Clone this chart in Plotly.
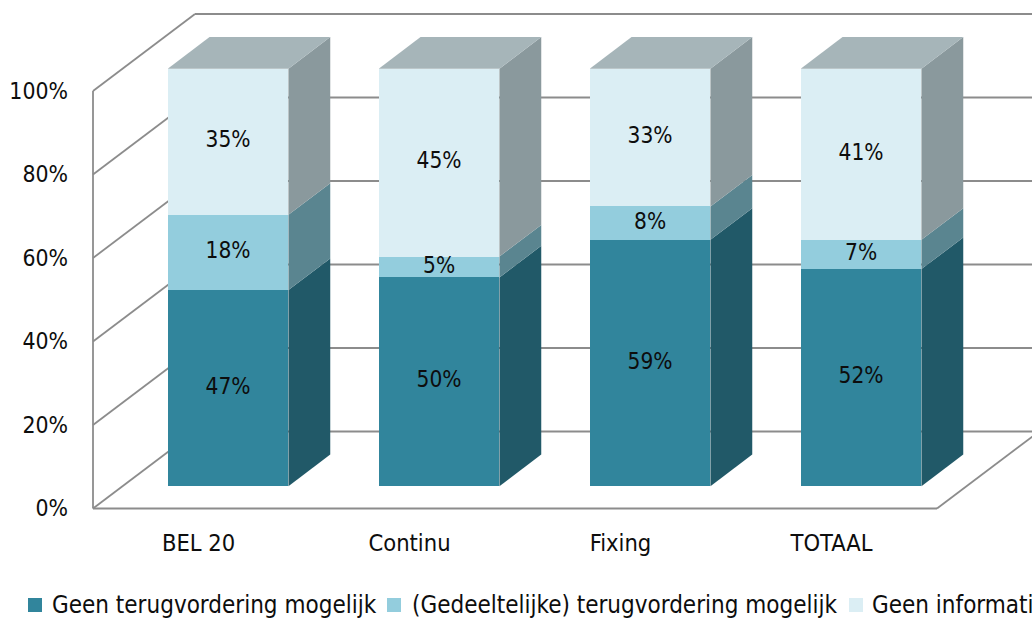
import plotly.graph_objects as go

# ---- data -------------------------------------------------------------
categories = ["BEL 20", "Continu", "Fixing", "TOTAAL"]
series_names = [
    "Geen terugvordering mogelijk",
    "(Gedeeltelijke) terugvordering mogelijk",
    "Geen informatie",
]
geen_terugvordering = [47, 50, 59, 52]
gedeeltelijke_terugvordering = [18, 5, 8, 7]
geen_informatie = [35, 45, 33, 41]
series_values = [geen_terugvordering, gedeeltelijke_terugvordering, geen_informatie]

y_ticks = [0, 20, 40, 60, 80, 100]
y_tick_labels = [f"{v}%" for v in y_ticks]

# ---- styling ----------------------------------------------------------
FONT = "DejaVu Sans Condensed, Lato, sans-serif"
TEXT_COLOR = "#0d0d0d"
front_colors = ["#31859C", "#93CDDD", "#DBEEF4"]
side_colors = ["#215968", "#5A8590", "#8A999D"]
top_color = "#A6B5B9"
wall_color = "#8C8C8C"

# ---- page / projection geometry (pixels) ------------------------------
W, H = 1032, 618
PX_PER_CAT = 211.0      # horizontal pixels per category slot
PX_PER_PCT = 4.175      # vertical pixels per percentage point
FRONT_LEFT_PX = 93.0    # left wall front edge
ZERO_PX = 508.5         # 0% on the front plane
PLOT_L, PLOT_B = 89.0, 512.0

x_range = [-0.5 - (FRONT_LEFT_PX - PLOT_L) / PX_PER_CAT,
           -0.5 + (W - FRONT_LEFT_PX) / PX_PER_CAT]
y_range = [-(PLOT_B - ZERO_PX) / PX_PER_PCT, ZERO_PX / PX_PER_PCT]

# oblique depth of the whole box, in axis units
DEPTH_X = 102.0 / PX_PER_CAT
DEPTH_Y = 77.0 / PX_PER_PCT
# bars sit between these depth fractions
BAR_FRONT, BAR_BACK = 0.29, 0.70
BAR_W = 0.572

dx1, dy1 = BAR_FRONT * DEPTH_X, BAR_FRONT * DEPTH_Y
dx2, dy2 = BAR_BACK * DEPTH_X, BAR_BACK * DEPTH_Y

n = len(categories)
x_left, x_right = -0.5, n - 0.5

fig = go.Figure()

# ---- walls and gridlines (axis furniture) -----------------------------
shapes = []


def seg(x0, y0, x1, y1):
    shapes.append(dict(type="line", xref="x", yref="y", x0=x0, y0=y0, x1=x1, y1=y1,
                       layer="below", line=dict(color=wall_color, width=1.8)))


for v in y_ticks:
    seg(x_left, v, x_left + DEPTH_X, v + DEPTH_Y)
    seg(x_left + DEPTH_X, v + DEPTH_Y, x_right + DEPTH_X + 1, v + DEPTH_Y)
seg(x_left, 0, x_left, y_ticks[-1])
seg(x_left, 0, x_right, 0)
seg(x_right, 0, x_right + DEPTH_X, DEPTH_Y)

# ---- bars -------------------------------------------------------------
cum = [0.0] * n
label_x, label_y, label_t = [], [], []
for k, vals in enumerate(series_values):
    bases = list(cum)
    fig.add_trace(go.Bar(
        x=[i + dx1 for i in range(n)],
        y=vals,
        base=[b + dy1 for b in bases],
        width=BAR_W,
        marker=dict(color=front_colors[k], line=dict(width=0)),
        name=series_names[k],
        showlegend=False,
        customdata=categories,
        hovertemplate="%{customdata}: " + "%{y}%<extra>" + series_names[k] + "</extra>",
    ))
    for i in range(n):
        lo, hi = bases[i], bases[i] + vals[i]
        xr = i + BAR_W / 2
        fig.add_trace(go.Scatter(
            x=[xr + dx1, xr + dx2, xr + dx2, xr + dx1, xr + dx1],
            y=[lo + dy1, lo + dy2, hi + dy2, hi + dy1, lo + dy1],
            mode="lines", fill="toself", fillcolor=side_colors[k],
            line=dict(width=0), hoverinfo="skip", showlegend=False,
        ))
        label_x.append(i + dx1)
        label_y.append(lo + vals[i] / 2 + dy1)
        label_t.append(f"{vals[i]}%")
        cum[i] = hi

# top faces
for i in range(n):
    top = cum[i]
    xl, xr = i - BAR_W / 2, i + BAR_W / 2
    fig.add_trace(go.Scatter(
        x=[xl + dx1, xr + dx1, xr + dx2, xl + dx2, xl + dx1],
        y=[top + dy1, top + dy1, top + dy2, top + dy2, top + dy1],
        mode="lines", fill="toself", fillcolor=top_color,
        line=dict(width=0), hoverinfo="skip", showlegend=False,
    ))

# value labels
fig.add_trace(go.Scatter(
    x=label_x, y=label_y, text=label_t, mode="text",
    textfont=dict(family=FONT, size=22.5, color=TEXT_COLOR),
    hoverinfo="skip", showlegend=False, cliponaxis=False,
))

# ---- legend (drawn below the chart) -----------------------------------
def px_x(px):
    return (px - PLOT_L) / (W - PLOT_L)


def px_y(py):
    return (PLOT_B - py) / PLOT_B


legend_marker_px = [28, 387, 849]
legend_text_px = [50, 410, 870]
LEG_Y = 605
annotations = []
for k, name in enumerate(series_names):
    shapes.append(dict(type="rect", xref="paper", yref="paper",
                       x0=px_x(legend_marker_px[k]), x1=px_x(legend_marker_px[k] + 14),
                       y0=px_y(LEG_Y - 7), y1=px_y(LEG_Y + 7),
                       fillcolor=front_colors[k], line=dict(width=0)))
    annotations.append(dict(xref="paper", yref="paper", x=px_x(legend_text_px[k]), y=px_y(LEG_Y),
                            text=name, showarrow=False, xanchor="left", yanchor="middle",
                            font=dict(family=FONT, size=24, color=TEXT_COLOR)))

fig.update_layout(
    width=W, height=H, autosize=False,
    margin=dict(l=PLOT_L, r=0, t=0, b=H - PLOT_B, pad=0),
    paper_bgcolor="white", plot_bgcolor="white",
    barmode="overlay", bargap=0,
    showlegend=False,
    shapes=shapes, annotations=annotations,
    xaxis=dict(range=x_range, tickmode="array", tickvals=list(range(n)), ticktext=categories,
               showgrid=False, zeroline=False, showline=False, ticks="",
               ticklabelstandoff=14,
               tickfont=dict(family=FONT, size=23.5, color=TEXT_COLOR), fixedrange=True),
    yaxis=dict(range=y_range, tickmode="array", tickvals=y_ticks, ticktext=y_tick_labels,
               showgrid=False, zeroline=False, showline=False, ticks="",
               ticklabelstandoff=20,
               tickfont=dict(family=FONT, size=22.8, color=TEXT_COLOR), fixedrange=True),
    font=dict(family=FONT),
)

fig.write_html("out.html")
